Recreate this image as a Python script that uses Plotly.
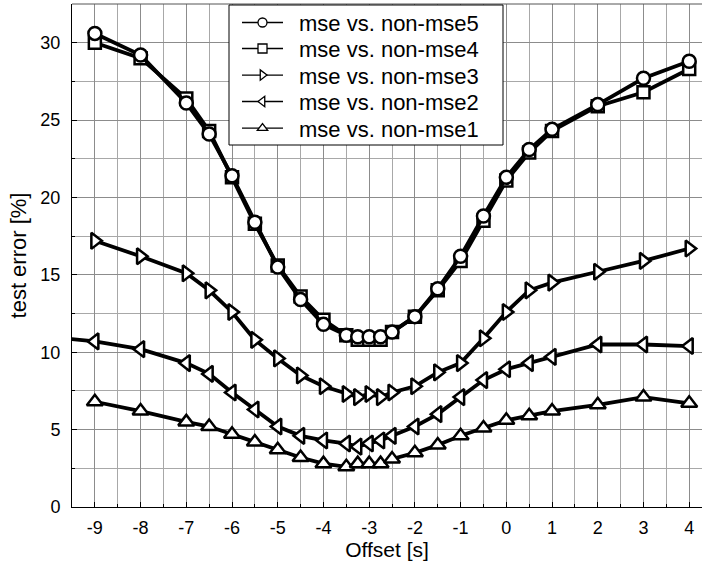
import plotly.graph_objects as go

# ---------------- data ----------------
offset = [-9, -8, -7, -6.5, -6, -5.5, -5, -4.5, -4, -3.5, -3.25, -3, -2.75,
          -2.5, -2, -1.5, -1, -0.5, 0, 0.5, 1, 2, 3, 4]
offset_mse2 = [-10] + offset

mse5 = [30.6, 29.2, 26.1, 24.1, 21.4, 18.4, 15.5, 13.4, 11.8, 11.1, 11.0, 11.0, 11.0,
        11.3, 12.3, 14.1, 16.2, 18.8, 21.3, 23.1, 24.4, 26.0, 27.7, 28.8]
mse4 = [30.0, 29.0, 26.4, 24.3, 21.3, 18.3, 15.6, 13.6, 12.1, 11.1, 10.8, 10.8, 10.8,
        11.3, 12.3, 14.0, 15.9, 18.5, 21.1, 22.9, 24.3, 25.9, 26.8, 28.3]
mse3 = [17.2, 16.2, 15.1, 14.0, 12.6, 10.8, 9.6, 8.5, 7.8, 7.3, 7.1, 7.3, 7.1,
        7.4, 7.8, 8.7, 9.3, 10.9, 12.6, 14.0, 14.5, 15.2, 15.9, 16.7]
mse2 = [11.0, 10.7, 10.2, 9.3, 8.6, 7.4, 6.3, 5.2, 4.6, 4.3, 4.1, 3.9, 4.1, 4.3,
        4.6, 5.2, 6.0, 7.1, 8.2, 8.9, 9.3, 9.7, 10.5, 10.5, 10.4]
mse1 = [6.8, 6.2, 5.5, 5.2, 4.7, 4.2, 3.7, 3.2, 2.8, 2.6, 2.8, 2.8, 2.8,
        3.1, 3.5, 4.0, 4.6, 5.1, 5.6, 5.9, 6.2, 6.6, 7.1, 6.7]

names = ["mse vs. non-mse1", "mse vs. non-mse2", "mse vs. non-mse3",
         "mse vs. non-mse4", "mse vs. non-mse5"]
symbols = ["triangle-up", "triangle-left", "triangle-right", "square", "circle"]
xs = [offset, offset_mse2, offset, offset, offset]
ys = [mse1, mse2, mse3, mse4, mse5]
sizes = [14, 14, 14, 12, 13]

x_ticks = list(range(-9, 5))
x_ticktext = [str(v) for v in x_ticks]          # plain hyphen minus
y_ticks = [0, 5, 10, 15, 20, 25, 30]

FONT = "Liberation Sans, Arial, sans-serif"

# figure geometry helpers (plot area: left 72, top 4, width 630, height 503)
L, T, W, H = 72, 4, 630, 503
def px(xp):
    return (xp - L) / W
def py(yp):
    return 1 - (yp - T) / H

fig = go.Figure()

# main curves (drawn mse1 .. mse5 so circles are on top)
for name, sym, x, y, s in zip(names, symbols, xs, ys, sizes):
    fig.add_trace(go.Scatter(
        x=x, y=y, mode="lines+markers", name=name, showlegend=False,
        line=dict(color="black", width=3.8),
        marker=dict(symbol=sym, size=s, color="white",
                    line=dict(color="black", width=2.5)),
    ))

# legend: one single-item legend per row, inside a common white box
row_y = [22.7, 48.7, 75.3, 101.7, 128.3]   # mse5 .. mse1 (pixels)
legend_layouts = {}
for row, i in enumerate(range(4, -1, -1)):
    lname = "legend" if row == 0 else f"legend{row + 1}"
    fig.add_trace(go.Scatter(
        x=[None], y=[None], mode="lines+markers", name="\u2002" + names[i],
        legend=lname,
        line=dict(color="black", width=1.3),
        marker=dict(symbol=symbols[i], size=9, color="white",
                    line=dict(color="black", width=1.3)),
    ))
    legend_layouts[lname] = dict(
        x=px(237), y=py(row_y[row]), xanchor="left", yanchor="middle",
        bgcolor="rgba(0,0,0,0)", borderwidth=0, itemwidth=41,
        font=dict(family=FONT, size=22, color="black"),
    )

fig.update_layout(
    width=702, height=562,
    margin=dict(l=L, r=702 - L - W, t=T, b=562 - T - H),
    paper_bgcolor="white", plot_bgcolor="white",
    font=dict(family=FONT, size=18, color="black"),
    showlegend=True,
    xaxis=dict(
        range=[-9.5, 4.28], tickvals=x_ticks, ticktext=x_ticktext,
        ticks="inside", ticklen=5, tickcolor="black",
        showline=True, linecolor="black", linewidth=1,
        showgrid=True, gridcolor="#8c8c8c", gridwidth=1,
        zeroline=False,
        minor=dict(dtick=0.5, showgrid=True, gridcolor="#a8a8a8",
                   ticks="inside", ticklen=3, tickcolor="black"),
        ticklabelstandoff=4,
        title=dict(text="Offset [s]", standoff=5,
                   font=dict(family=FONT, size=21)),
        tickfont=dict(family=FONT, size=18),
    ),
    yaxis=dict(
        range=[0, 32.5], tickvals=y_ticks,
        ticks="inside", ticklen=5, tickcolor="black",
        showline=True, linecolor="black", linewidth=1,
        showgrid=True, gridcolor="#8c8c8c", gridwidth=1,
        zeroline=False,
        minor=dict(dtick=2.5, showgrid=True, gridcolor="#a8a8a8",
                   ticks="inside", ticklen=3, tickcolor="black"),
        ticklabelstandoff=7,
        title=dict(text="test error [%]", standoff=7,
                   font=dict(family=FONT, size=22)),
        tickfont=dict(family=FONT, size=18),
    ),
    shapes=[
        dict(type="line", xref="paper", yref="paper", x0=0, x1=1, y0=1, y1=1,
             line=dict(color="#555555", width=1)),
        dict(type="rect", xref="paper", yref="paper", layer="above",
             x0=px(229), x1=px(503), y0=py(145), y1=py(5),
             fillcolor="white", line=dict(color="black", width=1)),
    ],
    **legend_layouts,
)

fig.write_html("out.html")
